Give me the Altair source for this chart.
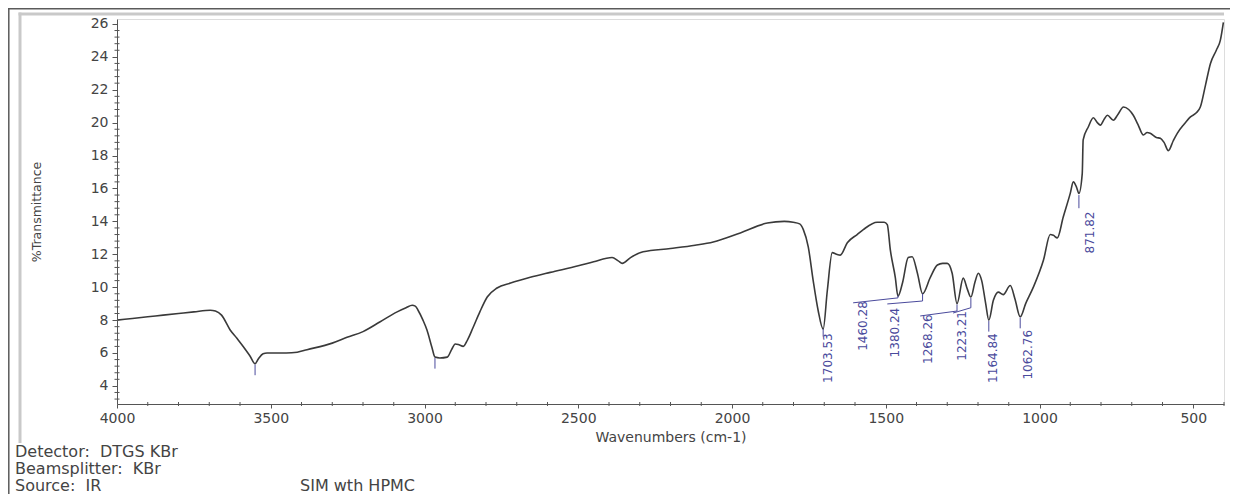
import altair as alt
import pandas as pd

# ---------------- data ----------------
wavenumber = [4000, 3950, 3900, 3850, 3800, 3750, 3697, 3680, 3660, 3632, 3610, 3590, 3567, 3551,
              3540, 3525, 3512, 3450, 3414, 3382, 3300, 3252, 3200, 3144, 3089, 3060, 3040, 3030,
              3021, 3005, 2992, 2976, 2966, 2950, 2926, 2912, 2900, 2888, 2874, 2860, 2842, 2820,
              2796, 2764, 2720, 2656, 2591, 2500, 2450, 2390, 2370, 2357, 2330, 2289, 2200, 2120,
              2061, 1973, 1885, 1830, 1801, 1780, 1768, 1752, 1736, 1720, 1703.53, 1690, 1674,
              1660, 1648, 1625, 1593, 1573, 1528, 1505, 1495, 1485, 1469, 1460.28, 1445, 1427,
              1414, 1397, 1380.24, 1355, 1332, 1315, 1300, 1284, 1268.26, 1248, 1235, 1223.21,
              1210, 1199, 1188, 1175, 1164.84, 1150, 1134, 1118, 1095, 1080, 1062.76, 1045, 1020,
              987, 965, 955, 942, 923, 900, 890, 880, 871.82, 861, 858, 841, 825, 812, 802, 790,
              779, 760, 745, 727, 710, 695, 680, 662, 650, 640, 620, 607, 595, 581, 565, 552, 530,
              509, 490, 477, 460, 444, 425, 412, 402]
transmittance = [8.0, 8.1, 8.2, 8.3, 8.4, 8.5, 8.6, 8.55, 8.3, 7.4, 6.9, 6.4, 5.8, 5.35,
                 5.65, 5.95, 6.0, 6.0, 6.05, 6.2, 6.6, 6.95, 7.3, 7.9, 8.5, 8.75, 8.9, 8.85,
                 8.6, 8.0, 7.4, 6.35, 5.75, 5.7, 5.75, 6.2, 6.55, 6.5, 6.4, 6.8, 7.55, 8.5,
                 9.4, 9.95, 10.25, 10.6, 10.9, 11.3, 11.55, 11.8, 11.6, 11.45, 11.8, 12.15, 12.35, 12.55,
                 12.75, 13.3, 13.9, 14.0, 13.95, 13.85, 13.5, 12.45, 10.4, 8.6, 7.45, 9.8, 12.1,
                 12.0, 11.95, 12.7, 13.2, 13.5, 13.95, 13.95, 13.8, 12.25, 10.6, 9.45, 10.3, 11.8,
                 11.85, 10.85, 9.6, 10.6, 11.35, 11.45, 11.45, 10.85, 9.0, 10.55, 9.9, 9.4,
                 10.3, 10.85, 10.4, 9.0, 8.0, 9.2, 9.7, 9.55, 10.1, 9.3, 8.2, 9.0, 10.0,
                 11.65, 13.2, 13.15, 13.0, 14.25, 15.7, 16.4, 16.1, 15.7, 16.9, 18.95, 19.75, 20.3, 20.0, 19.85, 20.2,
                 20.45, 20.15, 20.5, 20.95, 20.8, 20.45, 19.9, 19.25, 19.4, 19.35, 19.1, 19.05, 18.8, 18.3, 18.9, 19.35, 19.9,
                 20.35, 20.6, 20.95, 22.3, 23.6, 24.4, 25.0, 26.1]

peak_labels = ["1703.53", "1460.28", "1380.24", "1268.26", "1223.21", "1164.84", "1062.76", "871.82"]
label_x = [1687, 1573, 1469, 1362, 1251, 1150, 1036, 835]
label_top = [7.2, 9.15, 8.75, 8.35, 8.55, 7.2, 7.4, 14.6]

seg_x1 = [1703.53, 1606, 1460.28, 1495, 1380.24, 1388, 1268.26, 1281, 1223.21, 1164.84, 1062.76, 871.82, 3551, 2966]
seg_y1 = [7.45, 9.05, 9.35, 8.98, 9.16, 8.25, 8.55, 8.43, 8.75, 7.95, 8.15, 15.6, 5.3, 5.7]
seg_x2 = [1703.53, 1460.28, 1460.28, 1380.24, 1380.24, 1268.26, 1268.26, 1223.21, 1223.21, 1164.84, 1062.76, 871.82, 3551, 2966]
seg_y2 = [7.0, 9.35, 9.5, 9.16, 9.6, 8.55, 8.95, 8.75, 9.35, 7.3, 7.5, 14.8, 4.65, 5.05]

x_ticks = [4000, 3500, 3000, 2500, 2000, 1500, 1000, 500]
y_ticks = [4, 6, 8, 10, 12, 14, 16, 18, 20, 22, 24, 26]

NBSP = "\u00a0"
info_lines = ["Detector:" + NBSP + " DTGS KBr", "Beamsplitter:" + NBSP + " KBr", "Source:" + NBSP + " IR"]
sample_name = "SIM wth HPMC"

# ---------------- layout ----------------
W, H = 1107, 385
FONT = "DejaVu Sans"
INK = "#3a3a3a"
BLUE = "#4a4a9c"

x_scale = alt.Scale(domain=[400, 4000], reverse=True, nice=False, zero=False)
y_scale = alt.Scale(domain=[2.9, 26.3], nice=False, zero=False)

x_axis = alt.Axis(values=x_ticks, format="d", title="Wavenumbers (cm-1)", grid=False,
                  labelFont=FONT, labelFontSize=14, labelColor="#444",
                  titleFont=FONT, titleFontSize=14, titleFontWeight="normal",
                  titleColor="#444", titlePadding=5, tickSize=4, labelPadding=3,
                  tickColor="#555", domainColor="#555", labelFlush=False, zindex=1)
y_axis = alt.Axis(values=y_ticks, format="d", title="%Transmittance", grid=False,
                  labelFont=FONT, labelFontSize=14, labelColor="#444",
                  titleFont=FONT, titleFontSize=12.5, titleFontWeight="normal",
                  titleColor="#444", titleX=-74, titleY=H / 2,
                  tickSize=5, labelPadding=4, tickColor="#555",
                  domainColor="#555", labelFlush=False, zindex=1)

spec_df = pd.DataFrame({"wn": wavenumber, "t": transmittance})
lab_df = pd.DataFrame({"wn": label_x, "t": label_top, "label": peak_labels})
seg_df = pd.DataFrame({"wn": seg_x1, "t": seg_y1, "wn2": seg_x2, "t2": seg_y2})
minor_x_df = pd.DataFrame({"wn": [v for v in range(400, 4001, 100) if v % 500 != 0]})
minor_y_df = pd.DataFrame({"t": [round(3.2 + 0.4 * i, 1) for i in range(58)
                                 if round(3.2 + 0.4 * i, 1) % 2 != 0 and 3.2 + 0.4 * i < 26.3]})
dummy = pd.DataFrame({"a": [0]})

X = alt.X("wn:Q", scale=x_scale, axis=x_axis)
Y = alt.Y("t:Q", scale=y_scale, axis=y_axis)

# frames
panel_left = alt.Chart(dummy).mark_rule(color="#c9c9c9", strokeWidth=3).encode(
    x=alt.value(-97), y=alt.value(-6.5), y2=alt.value(424))
panel_top = alt.Chart(dummy).mark_rule(color="#c9c9c9", strokeWidth=3).encode(
    x=alt.value(-98.5), x2=alt.value(W), y=alt.value(-5))
outer_left = alt.Chart(dummy).mark_rule(color="#5a5a5a", strokeWidth=1.5).encode(
    x=alt.value(-108.2), y=alt.value(-11), y2=alt.value(480))
outer_top = alt.Chart(dummy).mark_rule(color="#5a5a5a", strokeWidth=1.5).encode(
    x=alt.value(-109), x2=alt.value(W + 6), y=alt.value(-10.2))

line = alt.Chart(spec_df).mark_line(color=INK, strokeWidth=1.6, interpolate="monotone").encode(
    x=X, y=Y, order=alt.Order("wn:Q", sort="descending"))

minor_x = alt.Chart(minor_x_df).mark_rule(color="#555", strokeWidth=1).encode(
    x=X, y=alt.value(H - 2), y2=alt.value(H + 2))
minor_y = alt.Chart(minor_y_df).mark_rule(color="#555", strokeWidth=1).encode(
    y=Y, x=alt.value(-2.5), x2=alt.value(2.5))

segs = alt.Chart(seg_df).mark_rule(color=BLUE, strokeWidth=1).encode(
    x=X, x2="wn2:Q", y=Y, y2="t2:Q")

labels = alt.Chart(lab_df).mark_text(angle=270, align="right", baseline="middle",
                                     font=FONT, fontSize=12, color=BLUE).encode(
    x=X, y=Y, text="label:N")

info_layers = []
for i, txt in enumerate(info_lines):
    info_layers.append(
        alt.Chart(pd.DataFrame({"txt": [txt]})).mark_text(
            align="left", baseline="alphabetic", font=FONT, fontSize=16, color="#444"
        ).encode(x=alt.value(-102), y=alt.value(438 + 17 * i), text="txt:N"))
sample = alt.Chart(pd.DataFrame({"txt": [sample_name]})).mark_text(
    align="left", baseline="alphabetic", font=FONT, fontSize=16, color="#444").encode(
    x=alt.value(183), y=alt.value(472), text="txt:N")

chart = alt.layer(line, minor_x, minor_y, segs, labels,
                  panel_left, panel_top, outer_left, outer_top,
                  *info_layers, sample).properties(
    width=W, height=H,
    padding={"left": 109, "top": 11, "right": 6, "bottom": 90},
    autosize=alt.AutoSizeParams(type="none"),
).configure_view(stroke=None).configure(background="white")

chart.save("out.html", embed_options={"renderer": "svg", "actions": False})
